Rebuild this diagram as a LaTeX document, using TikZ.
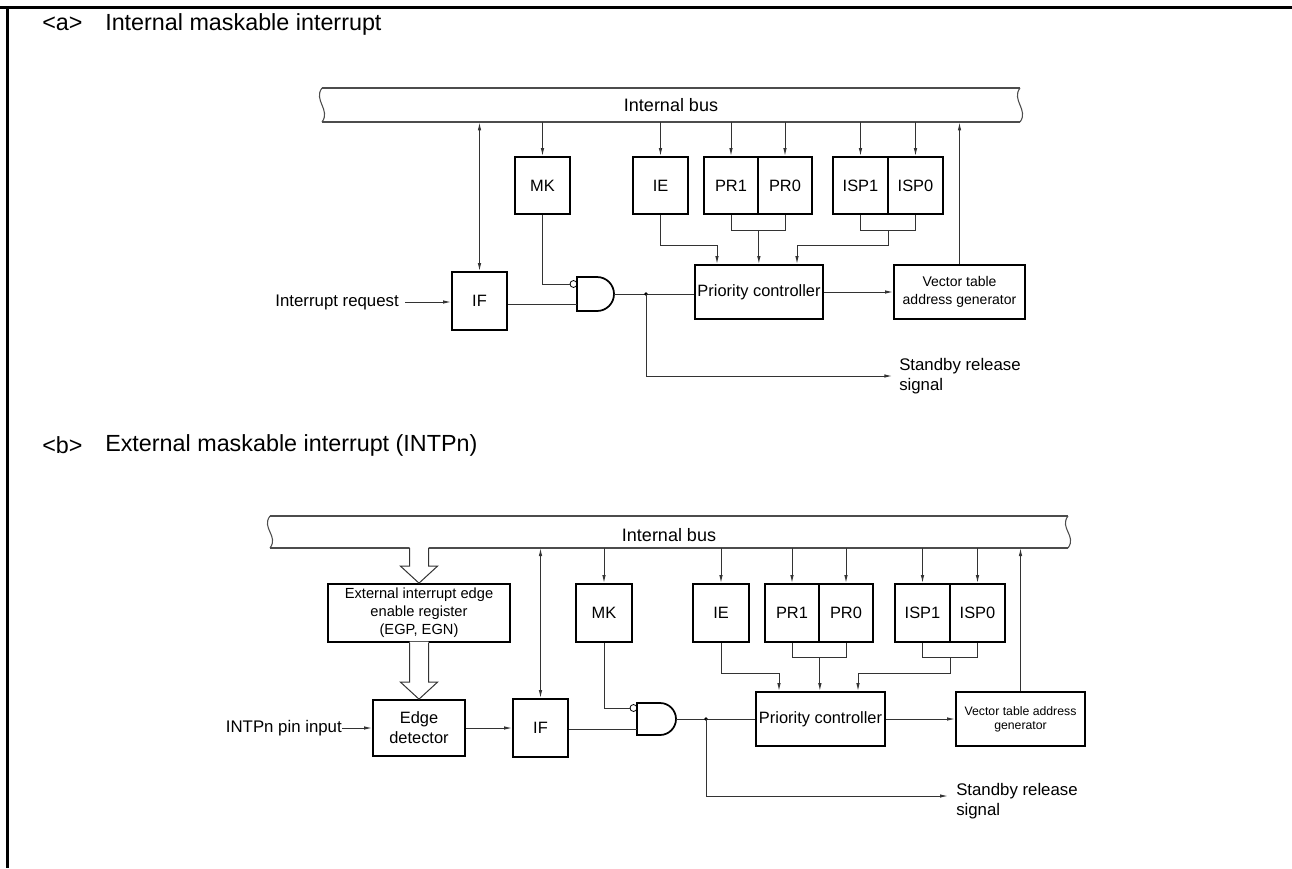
\documentclass[tikz,border=0pt]{standalone}
\usepackage{fontspec}
\setmainfont{Liberation Sans}
\usetikzlibrary{arrows.meta,calc}
\newcommand\mybus[4]{%
 \draw[busline] (#1,#3) -- (#2,#3);
 \draw[busline] (#1,#4) -- (#2,#4);
 \draw[busline] (#1,#3) .. controls (#1-9,#3+12) and (#1+9,#4-12) .. (#1,#4);
 \draw[busline] (#2,#3) .. controls (#2-9,#3+12) and (#2+9,#4-12) .. (#2,#4);
}
\newcommand\hollowarr[2]{%
 \fill[white] ($(#1)+(-9.5,-1.2)$) -- ($(#2)+(-9.5,-17)$) -- ($(#2)+(-18.5,-17)$) -- (#2) -- ($(#2)+(18.5,-17)$) -- ($(#2)+(9.5,-17)$) -- ($(#1)+(9.5,-1.2)$) -- cycle;
 \draw[hollow] ($(#1)+(-9.5,0)$) -- ($(#2)+(-9.5,-17)$) -- ($(#2)+(-18.5,-17)$) -- (#2) -- ($(#2)+(18.5,-17)$) -- ($(#2)+(9.5,-17)$) -- ($(#1)+(9.5,0)$);
}
\begin{document}
\begin{tikzpicture}[x=0.75pt,y=-0.75pt,
  box/.style={draw=black, line width=1.3pt, inner sep=0pt, font=\fontsize{12.3}{14.5}\selectfont, align=center},
  sz/.style 2 args={minimum width=#1*0.75pt, minimum height=#2*0.75pt},
  wire/.style={draw=black!80, line width=0.75pt},
  arr/.style={wire, -{Latex[length=6pt,width=2.6pt]}},
  barr/.style={wire, {Latex[length=6pt,width=2.6pt]}-{Latex[length=6pt,width=2.6pt]}},
  busline/.style={draw=black!70, line width=0.8pt},
  lbl/.style={font=\fontsize{12.6}{14.5}\selectfont, inner sep=0pt},
  buslbl/.style={font=\fontsize{13.5}{15}\selectfont, inner sep=0pt},
  ttl/.style={font=\fontsize{17.5}{20}\selectfont, inner sep=0pt, anchor=west},
  hollow/.style={draw=black!80, line width=0.75pt, line join=miter},
  gate/.style={draw=black, line width=1.3pt},
  bubble/.style={circle, draw=black, line width=0.6pt, inner sep=0pt, minimum size=5.2pt},
]
\useasboundingbox (0,0) rectangle (1292,868);
\draw[line width=2.4pt] (0,7.5) -- (1292,7.5);
\draw[line width=2.4pt] (7.5,6) -- (7.5,868);

% ---------------- <a> ----------------
\node[ttl] (ta1) at (42,24) {<a>};
\node[ttl] (ta2) at (105,24) {Internal maskable interrupt};

\mybus{322}{1020}{88}{122}
\node[buslbl, sz={698}{34}] (busa) at (671,105) {Internal bus};

\node[box, sz={55}{58}] (IFa) at (479.5,301) {IF};
\node[box, sz={55}{57}] (MKa) at (542.5,185.5) {MK};
\node[box, sz={55}{57}] (IEa) at (660.5,185.5) {IE};
\node[box, sz={54}{57}] (PR1a) at (731,185.5) {PR1};
\node[box, sz={54}{57}] (PR0a) at (785,185.5) {PR0};
\node[box, sz={55}{57}] (ISP1a) at (860.5,185.5) {ISP1};
\node[box, sz={55}{57}] (ISP0a) at (915.5,185.5) {ISP0};
\node[box, sz={128}{54}] (PCa) at (759,292) {Priority controller};
\node[box, sz={131}{54}, font=\fontsize{10.5}{13}\selectfont] (VTa) at (959.5,292) {Vector table\\address generator};

\draw[barr] (IFa.north |- busa.south) -- (IFa.north);
\draw[arr] (MKa.north |- busa.south) -- (MKa.north);
\draw[arr] (IEa.north |- busa.south) -- (IEa.north);
\draw[arr] (PR1a.north |- busa.south) -- (PR1a.north);
\draw[arr] (PR0a.north |- busa.south) -- (PR0a.north);
\draw[arr] (ISP1a.north |- busa.south) -- (ISP1a.north);
\draw[arr] (ISP0a.north |- busa.south) -- (ISP0a.north);
\draw[arr] (VTa.north) -- (VTa.north |- busa.south);

% gate a
\draw[gate] (577,277) -- (597,277) arc[start angle=90,end angle=-90,radius=12.75pt] -- (577,311) -- cycle;
\coordinate (gAout) at (614,294);
\coordinate (gAin2) at (577,304);
\node[bubble] (bubA) at (573.5,284) {};
\draw[wire] (MKa.south) |- (bubA.west);
\draw[wire] (IFa.east |- gAin2) -- (gAin2);
\draw[wire] (gAout) -- (PCa.west |- gAout);
\coordinate (jA) at (646,294);
\fill (jA) circle (1.4pt);
\node[lbl, anchor=west, align=left] (sbtA) at (899,376) {Standby release\\signal};
\draw[arr] (jA) |- ([xshift=-5pt]sbtA.west);

\node[lbl, anchor=east] (irq) at (399,302) {Interrupt request};
\draw[arr] ([xshift=4.5pt]irq.east) -- (IFa.west |- irq.east);

\draw[wire] (PR1a.south) -- ++(0,16) -| (PR0a.south);
\draw[arr] ($(PR1a.south east)+(0,16)$) -- (PR1a.south east |- PCa.north);
\draw[wire] (ISP1a.south) -- ++(0,16) -| (ISP0a.south);
\draw[arr] ($(ISP1a.south east)+(0,16)$) -- ++(0,15) -| ($(PCa.north)+(38,0)$);
\draw[arr] (IEa.south) -- ++(0,31) -| ($(PCa.north)+(-42,0)$);
\draw[arr] (PCa.east) -- (VTa.west);

% ---------------- <b> ----------------
\node[ttl] (tb1) at (42,445) {<b>};
\node[ttl] (tb2) at (105,445) {External maskable interrupt (INTPn)};

\mybus{270}{1068}{516}{548}
\node[buslbl, sz={798}{32}] (busb) at (669,535) {Internal bus};

\node[box, sz={182}{58}, font=\fontsize{11}{13.5}\selectfont] (EIER) at (419,613) {External interrupt edge\\enable register\\(EGP, EGN)};
\node[box, sz={92}{56}, font=\fontsize{12.3}{15}\selectfont] (ED) at (419,728) {Edge\\detector};
\node[box, sz={55}{58}] (IFb) at (540.5,728) {IF};
\node[box, sz={56}{58}] (MKb) at (604,613) {MK};
\node[box, sz={56}{58}] (IEb) at (721,613) {IE};
\node[box, sz={54}{58}] (PR1b) at (792,613) {PR1};
\node[box, sz={54}{58}] (PR0b) at (846,613) {PR0};
\node[box, sz={55}{58}] (ISP1b) at (922.5,613) {ISP1};
\node[box, sz={55}{58}] (ISP0b) at (977.5,613) {ISP0};
\node[box, sz={129}{54}] (PCb) at (820.5,719) {Priority controller};
\node[box, sz={129}{54}, font=\fontsize{9.2}{10.5}\selectfont] (VTb) at (1020.5,719) {Vector table address\\generator};

\coordinate (h1t) at (EIER.north |- 0,548);
\hollowarr{h1t}{EIER.north}
\hollowarr{EIER.south}{ED.north}

\draw[barr] (IFb.north |- 0,548) -- (IFb.north);
\draw[arr] (MKb.north |- 0,548) -- (MKb.north);
\draw[arr] (IEb.north |- 0,548) -- (IEb.north);
\draw[arr] (PR1b.north |- 0,548) -- (PR1b.north);
\draw[arr] (PR0b.north |- 0,548) -- (PR0b.north);
\draw[arr] (ISP1b.north |- 0,548) -- (ISP1b.north);
\draw[arr] (ISP0b.north |- 0,548) -- (ISP0b.north);
\draw[arr] (VTb.north) -- (VTb.north |- 0,548);

% gate b
\draw[gate] (637,703) -- (660,703) arc[start angle=90,end angle=-90,radius=12pt] -- (637,735) -- cycle;
\coordinate (gBout) at (676,719);
\coordinate (gBin2) at (637,729);
\node[bubble] (bubB) at (633.5,708) {};
\draw[wire] (MKb.south) |- (bubB.west);
\draw[wire] (IFb.east |- gBin2) -- (gBin2);
\draw[wire] (gBout) -- (PCb.west |- gBout);
\coordinate (jB) at (706,719);
\fill (jB) circle (1.4pt);
\node[lbl, anchor=west, align=left] (sbtB) at (956,801) {Standby release\\signal};
\draw[arr] (jB) |- ([xshift=-6pt]sbtB.west |- 0,796);

\node[lbl, anchor=east] (intp) at (342,728) {INTPn pin input};
\draw[arr] (intp.east) -- (ED.west);
\draw[arr] (ED.east) -- (IFb.west);

\draw[wire] (PR1b.south) -- ++(0,15) -| (PR0b.south);
\draw[arr] ($(PR1b.south east)+(0,15)$) -- (PR1b.south east |- PCb.north);
\draw[wire] (ISP1b.south) -- ++(0,15) -| (ISP0b.south);
\draw[arr] ($(ISP1b.south east)+(0,15)$) -- ++(0,16) -| ($(PCb.north)+(37.5,0)$);
\draw[arr] (IEb.south) -- ++(0,31) -| ($(PCb.north)+(-41.5,0)$);
\draw[arr] (PCb.east) -- (VTb.west);
\end{tikzpicture}
\end{document}
